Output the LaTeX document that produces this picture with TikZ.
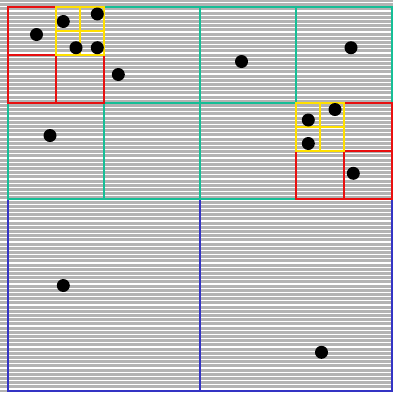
\documentclass[tikz,border=0pt]{standalone}
\usetikzlibrary{positioning}

\definecolor{cellblue}{RGB}{52,52,196}
\definecolor{cellgreen}{RGB}{22,190,150}
\definecolor{cellred}{RGB}{232,16,16}
\definecolor{cellyellow}{RGB}{255,224,0}
\definecolor{stripegray}{RGB}{179,179,179}

\begin{document}
\begin{tikzpicture}[
    x=1pt, y=-1pt,
    stripe/.style={white, line width=1.2pt},
    level1/.style={draw=cellblue, line width=2pt},
    level2/.style={draw=cellgreen, line width=2pt},
    level3/.style={draw=cellred, line width=2pt},
    level4/.style={draw=cellyellow, line width=2pt},
    point/.style={circle, fill=black, inner sep=0pt, minimum size=13pt}
]
\useasboundingbox (0,0) rectangle (393,392);

% Striped background
\fill[stripegray] (0,0) rectangle (393,392);
\foreach \y in {2.6,6.8,...,392}
    \draw[stripe] (0,\y) -- (393,\y);

% Level 1: four quadrants
\foreach \x/\y in {8/7, 200/7, 8/199, 200/199}
    \draw[level1] (\x,\y) rectangle ++(192,192);

% Level 2: children of the two upper quadrants
\foreach \x/\y in {8/7, 104/7, 8/103, 104/103, 200/7, 296/7, 200/103, 296/103}
    \draw[level2] (\x,\y) rectangle ++(96,96);

% Level 3
\foreach \x/\y in {8/7, 56/7, 8/55, 56/55, 296/103, 344/103, 296/151, 344/151}
    \draw[level3] (\x,\y) rectangle ++(48,48);

% Level 4
\foreach \x/\y in {56/7, 80/7, 56/31, 80/31, 296/103, 320/103, 296/127, 320/127}
    \draw[level4] (\x,\y) rectangle ++(24,24);

% Points
\node[point] (p1) at (36.5,34.5) {};
\node[point] (p2) at (63.3,21.5) {};
\node[point] (p3) at (97.3,14) {};
\node[point] (p4) at (76,47.7) {};
\node[point] (p5) at (97.3,47.7) {};
\node[point] (p6) at (118.3,74.5) {};
\node[point] (p7) at (241.5,61.5) {};
\node[point] (p8) at (351,47.7) {};
\node[point] (p9) at (50,135.5) {};
\node[point] (p10) at (335,109.5) {};
\node[point] (p11) at (308.3,120) {};
\node[point] (p12) at (308.3,143.5) {};
\node[point] (p13) at (353.3,173.3) {};
\node[point] (p14) at (63.3,285.5) {};
\node[point] (p15) at (321.5,352.3) {};

\end{tikzpicture}
\end{document}
